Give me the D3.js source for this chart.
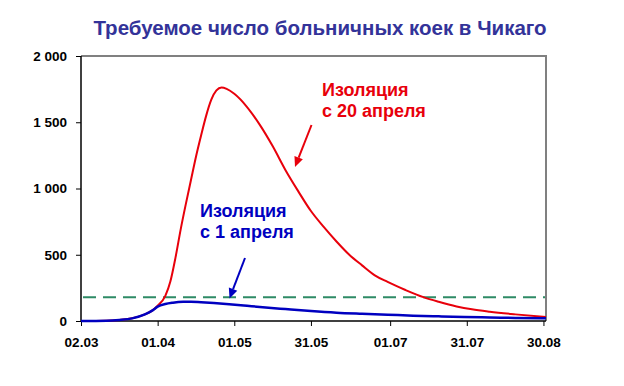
<!DOCTYPE html>
<html lang="ru">
<head>
<meta charset="UTF-8">
<title>Требуемое число больничных коек в Чикаго</title>
<script src="https://cdn.jsdelivr.net/npm/d3@7"></script>
<style>
  body { margin: 0; background: #fff; }
  svg { display: block; font-family: Arial, "Liberation Sans", sans-serif; }
</style>
</head>
<body>
<div id="chart"></div>
<script>
// Values. Days are counted from 02.03.2020.
const startDate = new Date(2020, 2, 2);
const endDate = new Date(2020, 7, 31);

const redDays   = [0, 10, 15, 20, 25, 28, 30, 33, 35, 37, 39, 41, 43, 45, 47, 49, 51, 53, 55, 57, 60, 65, 70, 75, 80, 85, 90, 95, 100, 105, 110, 115, 120, 127, 134, 140, 147, 153, 160, 170, 182];
const redValues = [0, 2, 8, 20, 50, 80, 115, 190, 300, 480, 690, 880, 1060, 1240, 1400, 1550, 1670, 1740, 1762, 1752, 1715, 1615, 1480, 1320, 1140, 980, 830, 710, 600, 500, 420, 345, 295, 234, 180, 145, 110, 88, 70, 50, 30];

const blueDays   = [0, 10, 15, 20, 25, 28, 30, 33, 36, 40, 43, 47, 52, 58, 65, 70, 80, 90, 100, 110, 120, 130, 140, 150, 160, 170, 182];
const blueValues = [0, 2, 8, 20, 50, 80, 108, 128, 138, 145, 146, 142, 136, 127, 115, 106, 90, 75, 63, 55, 48, 40, 35, 30, 27, 23, 20];

const bedCapacity = 180;

const yTicks = [0, 500, 1000, 1500, 2000];
const xTickLabels = ["02.03", "01.04", "01.05", "31.05", "01.07", "31.07", "30.08"];

const title = "Требуемое число больничных коек в Чикаго";
const redLabel = ["Изоляция", "с 20 апреля"];
const blueLabel = ["Изоляция", "с 1 апреля"];

// layout
const width = 624, height = 386;
const margin = {top: 56, right: 78, bottom: 65, left: 81};

const svg = d3.select("#chart").append("svg")
    .attr("width", width)
    .attr("height", height);

const x = d3.scaleTime()
    .domain([startDate, endDate])
    .range([margin.left, width - margin.right]);

const y = d3.scaleLinear()
    .domain([0, 2000])
    .range([height - margin.bottom, margin.top]);

const parseTick = d3.timeParse("%d.%m.%Y");
const xTicks = xTickLabels.map(s => parseTick(s + ".2020"));

// title
svg.append("text")
    .attr("x", 320)
    .attr("y", 35)
    .attr("text-anchor", "middle")
    .attr("fill", "#333399")
    .attr("font-weight", "bold")
    .attr("font-size", 20.5)
    .text(title);

// plot frame (grey top/right like Excel)
svg.append("path")
    .attr("d", `M${x.range()[0]},${y(2000)}H${x.range()[1]}V${y(0)}`)
    .attr("fill", "none")
    .attr("stroke", "#808080")
    .attr("stroke-width", 2);

// axes
const yAxis = svg.append("g")
    .attr("transform", `translate(${margin.left},0)`)
    .call(d3.axisLeft(y).tickValues(yTicks).tickSize(5).tickPadding(9)
        .tickFormat(d => d3.format(",")(d).replace(",", " ")));

const xAxis = svg.append("g")
    .attr("transform", `translate(0,${y(0)})`)
    .call(d3.axisBottom(x).tickValues(xTicks).tickSize(5).tickPadding(11)
        .tickFormat(d3.timeFormat("%d.%m")));

[yAxis, xAxis].forEach(g => {
    g.select(".domain").attr("stroke", "#000").attr("stroke-width", 1.5);
    g.selectAll(".tick line").attr("stroke", "#000");
    g.selectAll(".tick text")
        .attr("font-family", "Arial, 'Liberation Sans', sans-serif")
        .attr("font-size", 13.5)
        .attr("font-weight", "bold")
        .attr("fill", "#000");
});
yAxis.select(".domain").attr("d", `M0,${y(2000)}V${y(0)}`);
xAxis.select(".domain").attr("d", `M${x.range()[0]},0H${x.range()[1]}`);

// capacity line
svg.append("line")
    .attr("x1", x.range()[0] + 2)
    .attr("x2", x.range()[1] - 1)
    .attr("y1", y(bedCapacity))
    .attr("y2", y(bedCapacity))
    .attr("stroke", "#2e8b66")
    .attr("stroke-width", 2)
    .attr("stroke-dasharray", "13,7");

const line = d3.line()
    .x(d => x(d3.timeDay.offset(startDate, d[0])))
    .y(d => y(d[1]))
    .curve(d3.curveMonotoneX);

svg.append("path")
    .datum(d3.zip(redDays, redValues))
    .attr("fill", "none")
    .attr("stroke", "#e8000b")
    .attr("stroke-width", 2)
    .attr("d", line);

svg.append("path")
    .datum(d3.zip(blueDays, blueValues))
    .attr("fill", "none")
    .attr("stroke", "#0000c0")
    .attr("stroke-width", 2.5)
    .attr("d", line);

// annotations
function label(lines, xPos, yPos, color) {
    const t = svg.append("text")
        .attr("x", xPos)
        .attr("y", yPos)
        .attr("fill", color)
        .attr("font-weight", "bold")
        .attr("font-size", 18);
    lines.forEach((s, i) => t.append("tspan")
        .attr("x", xPos)
        .attr("dy", i ? 21 : 0)
        .text(s));
}

function arrow(x1, y1, x2, y2, color) {
    const a = Math.atan2(y2 - y1, x2 - x1);
    const len = 10, w = 4.5;
    const bx = x2 - len * Math.cos(a), by = y2 - len * Math.sin(a);
    svg.append("line")
        .attr("x1", x1).attr("y1", y1).attr("x2", bx).attr("y2", by)
        .attr("stroke", color).attr("stroke-width", 2);
    svg.append("path")
        .attr("d", `M${x2},${y2}L${bx + w * Math.sin(a)},${by - w * Math.cos(a)}L${bx - w * Math.sin(a)},${by + w * Math.cos(a)}Z`)
        .attr("fill", color);
}

label(redLabel, 322, 96, "#e8000b");
arrow(311.5, 125, 295, 167, "#e8000b");

label(blueLabel, 200, 216.5, "#0000c0");
arrow(245, 258, 229.5, 298.5, "#0000c0");
</script>
</body>
</html>
